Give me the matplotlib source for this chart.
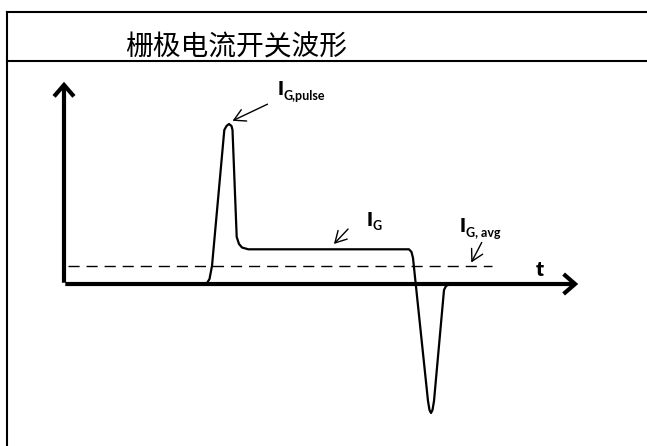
import matplotlib.pyplot as plt
from matplotlib.patches import FancyArrowPatch

# Schematic drawn in pixel-like units of the 647 x 446 canvas (y grows downward).
W, H = 647, 446

TITLE = "栅极电流开关波形"

# gate-current waveform
wave_x = [150, 204, 207, 209.5, 212, 224.3, 226.5, 229, 231.5, 232.5, 236.7,
          239, 242, 248.3, 409, 411.5, 413, 428, 429.5, 431, 432.5, 434,
          444, 446, 450, 470]
wave_y = [284, 284, 283, 279, 266, 130, 126, 124, 126, 130, 237,
          244, 247.5, 249.3, 249.3, 252, 258, 401, 410, 413, 410, 401,
          290, 286, 284, 284]

avg_x = [68, 492]
avg_y = [266, 266]

# labels: (main, subscript, x, baseline of main, baseline of subscript)
labels = [
    ("I", "G,pulse", 278, 95, 100),
    ("I", "G", 367, 226, 230.5),
    ("I", "G, avg", 460, 232, 237),
]
# pointer arrows: (from, to)
pointers = [
    ((270, 103), (230, 122)),
    ((350, 227), (332, 246)),
    ((483, 240), (470, 265)),
]

LABEL_FONT = ["Lato", "DejaVu Sans"]

fig = plt.figure(figsize=(W / 100, H / 100), dpi=100)
ax = fig.add_axes([0, 0, 1, 1])
ax.set_xlim(0, W)
ax.set_ylim(H, 0)
ax.axis("off")

# frame and title bar
ax.plot([7, 7], [12, H], color="black", lw=1.5, solid_capstyle="projecting")
ax.plot([7, W], [12, 12], color="black", lw=1.5)
ax.plot([7, W], [61, 61], color="black", lw=1.5)
ax.text(236, 47, TITLE, ha="center", va="center", fontsize=20,
        family=["Noto Sans CJK SC", "DejaVu Sans"])

# axes with open arrow heads
for start, end in [((64, 285.5), (64, 79)), ((62.5, 284), (581, 284))]:
    ax.add_patch(FancyArrowPatch(start, end,
                                 arrowstyle="->,head_length=0.75,head_width=0.65",
                                 mutation_scale=11, lw=3, color="black",
                                 capstyle="butt", joinstyle="miter"))

ax.plot(avg_x, avg_y, color="black", lw=1.0, dashes=(8, 5))
ax.plot(wave_x, wave_y, color="black", lw=1.6, solid_joinstyle="round")

ax.text(536, 276, "t", fontsize=15, fontweight="heavy", family=LABEL_FONT)

for main, sub, x, yb, ys in labels:
    ax.text(x, yb, main, fontsize=13.5, fontweight="heavy", family=LABEL_FONT,
            va="baseline", ha="left")
    ax.text(x + 5.5, ys, sub, fontsize=9, fontweight="bold", family=LABEL_FONT,
            va="baseline", ha="left")

for start, end in pointers:
    ax.add_patch(FancyArrowPatch(start, end,
                                 arrowstyle="->,head_length=0.9,head_width=0.5",
                                 mutation_scale=9, lw=1.0, color="black"))

fig.savefig("out.png", dpi=100, facecolor="white")
